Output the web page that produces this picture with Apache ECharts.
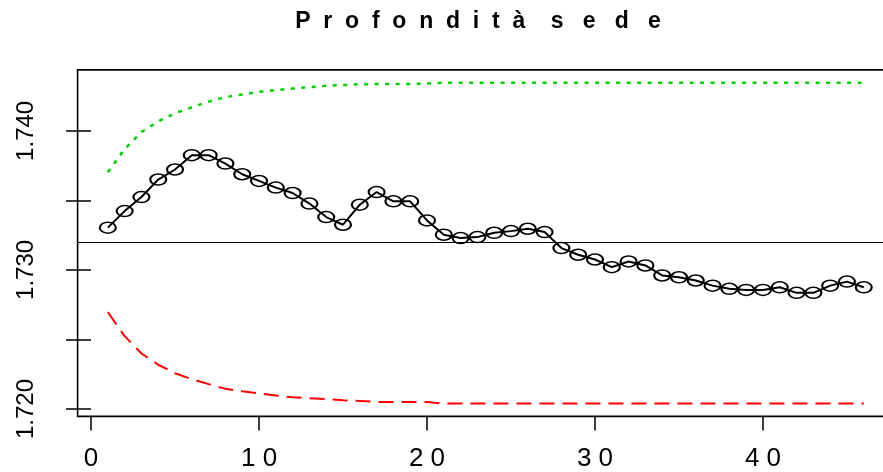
<!DOCTYPE html>
<html>
<head>
<meta charset="utf-8">
<title>Profondità sede</title>
<script src="https://cdn.jsdelivr.net/npm/echarts@6/dist/echarts.min.js"></script>
<style>
  html, body { margin: 0; padding: 0; background: #fff; }
  #chart { width: 883px; height: 472px; }
</style>
</head>
<body>
<div id="chart"></div>
<script>
// EWMA statistic per sample (samples 1..46)
const ewmaValues = [
  1.73304, 1.73423, 1.73524, 1.73650, 1.73722, 1.73825, 1.73825, 1.73765,
  1.73688, 1.73640, 1.73592, 1.73553, 1.73477, 1.73380, 1.73325, 1.73469,
  1.73560, 1.73493, 1.73493, 1.73356, 1.73253, 1.73229, 1.73236, 1.73267,
  1.73279, 1.73296, 1.73272, 1.73157, 1.73109, 1.73075, 1.73020, 1.73061,
  1.73032, 1.72960, 1.72947, 1.72924, 1.72887, 1.72864, 1.72856, 1.72856,
  1.72875, 1.72835, 1.72835, 1.72887, 1.72916, 1.72875
];

// Upper control limit
const upperLimit = [
  1.73702, 1.73869, 1.73991, 1.74068, 1.74126, 1.74170, 1.74210, 1.74243,
  1.74261, 1.74280, 1.74293, 1.74304, 1.74314, 1.74324, 1.74329, 1.74335,
  1.74337, 1.74337, 1.74337, 1.74340, 1.74346, 1.74346, 1.74346, 1.74346,
  1.74346, 1.74346, 1.74346, 1.74346, 1.74346, 1.74346, 1.74346, 1.74346,
  1.74346, 1.74346, 1.74346, 1.74346, 1.74346, 1.74346, 1.74346, 1.74346,
  1.74346, 1.74346, 1.74346, 1.74346, 1.74346, 1.74346
];

// Lower control limit
const lowerLimit = [
  1.72696, 1.72524, 1.72399, 1.72318, 1.72257, 1.72214, 1.72179, 1.72145,
  1.72128, 1.72112, 1.72097, 1.72084, 1.72077, 1.72071, 1.72062, 1.72058,
  1.72051, 1.72051, 1.72051, 1.72051, 1.72039, 1.72039, 1.72039, 1.72039,
  1.72039, 1.72039, 1.72039, 1.72039, 1.72039, 1.72039, 1.72039, 1.72039,
  1.72039, 1.72039, 1.72039, 1.72039, 1.72039, 1.72039, 1.72039, 1.72039,
  1.72039, 1.72039, 1.72039, 1.72039, 1.72039, 1.72039
];

const centerLine = 1.732;

const xTickValues = [0, 10, 20, 30, 40];
const yTickValues = [1.720, 1.725, 1.730, 1.735, 1.740];
const yLabelValues = [1.720, 1.730, 1.740];

const titleText = 'P  r  o  f  o  n  d  i  t  à    s   e   d   e';

// pair each value with its sample number
const toPoints = arr => arr.map((v, i) => [i + 1, v]);

// axis ranges padded by 4% on each side of the data
function padded(lo, hi) {
  const d = (hi - lo) * 0.04;
  return [lo - d, hi + d];
}
const [xMin, xMax] = padded(1, ewmaValues.length);
const allY = ewmaValues.concat(upperLimit, lowerLimit);
const [yMin, yMax] = padded(Math.min(...allY), Math.max(...allY));

const FONT = '"Liberation Sans Narrow", "Arial Narrow", "Liberation Sans", Arial, sans-serif';

const chart = echarts.init(document.getElementById('chart'), null, { renderer: 'canvas' });

chart.setOption({
  animation: false,
  backgroundColor: '#fff',
  grid: {
    left: 77.6, top: 69.9, width: 816.4, height: 346.5,
    outerBoundsMode: 'none',
    containLabel: false,
    show: true, borderColor: '#000', borderWidth: 1.6, backgroundColor: 'transparent'
  },
  graphic: [{
    type: 'text',
    x: 478, y: 22,
    style: {
      text: titleText,
      fill: '#000',
      fontSize: 23,
      fontWeight: 'bold',
      fontFamily: FONT,
      align: 'center',
      verticalAlign: 'middle'
    }
  }],
  xAxis: {
    type: 'value',
    min: xMin, max: xMax,
    axisLine: { show: false },
    splitLine: { show: false },
    axisTick: {
      show: true, length: 14, customValues: xTickValues,
      lineStyle: { color: '#000', width: 1.5 }
    },
    axisLabel: {
      customValues: xTickValues,
      margin: 29,
      color: '#000',
      fontSize: 26,
      fontFamily: FONT,
      formatter: v => String(v).split('').join(' ')
    }
  },
  yAxis: {
    type: 'value',
    min: yMin, max: yMax,
    axisLine: { show: false },
    splitLine: { show: false },
    axisTick: {
      show: true, length: 25, customValues: yTickValues,
      lineStyle: { color: '#000', width: 1.5 }
    },
    axisLabel: {
      customValues: yLabelValues,
      rotate: 90,
      margin: 39,
      color: '#000',
      fontSize: 24,
      fontFamily: FONT,
      formatter: v => v.toFixed(3)
    }
  },
  series: [
    {
      name: 'upper',
      type: 'line',
      data: toPoints(upperLimit),
      symbol: 'none',
      lineStyle: { color: '#00D000', width: 2.5, type: [4, 6.5] },
      z: 2
    },
    {
      name: 'lower',
      type: 'line',
      data: toPoints(lowerLimit),
      symbol: 'none',
      lineStyle: { color: '#FF0000', width: 2, type: [15, 8] },
      z: 2
    },
    {
      name: 'ewma',
      type: 'line',
      data: toPoints(ewmaValues),
      symbol: 'path://M0,5A8,5,0,1,1,16,5A8,5,0,1,1,0,5Z',
      symbolSize: [16, 11],
      itemStyle: { color: 'rgba(0,0,0,0)', borderColor: '#000', borderWidth: 1.8 },
      lineStyle: { color: '#000', width: 2 },
      markLine: {
        silent: true,
        symbol: 'none',
        precision: 4,
        label: { show: false },
        lineStyle: { color: '#000', width: 1.2, type: 'solid' },
        data: [{ yAxis: centerLine }]
      },
      z: 3
    }
  ]
});
</script>
</body>
</html>
